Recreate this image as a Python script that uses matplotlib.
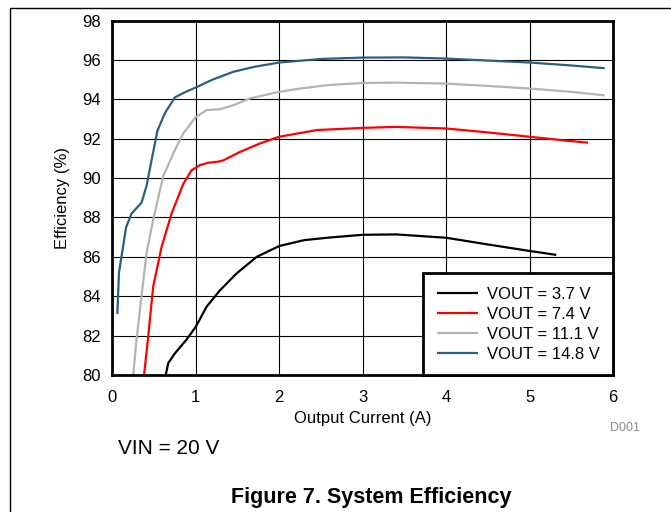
import matplotlib
matplotlib.use("Agg")
import matplotlib.pyplot as plt
from matplotlib.lines import Line2D

plt.rcParams['font.family'] = ['Liberation Sans', 'DejaVu Sans']

# efficiency curves (x in A, y in %)
x_37 = [0.64, 0.67, 0.75, 0.89, 1.0, 1.13, 1.29, 1.49, 1.73, 2.0, 2.3, 2.6, 3.0, 3.4, 4.0, 4.5, 5.0, 5.32]
y_37 = [80.0, 80.6, 81.1, 81.8, 82.45, 83.47, 84.3, 85.16, 86.0, 86.55, 86.85, 86.98, 87.12, 87.14, 86.97, 86.63, 86.3, 86.1]

x_74 = [0.38, 0.43, 0.49, 0.59, 0.71, 0.85, 0.95, 1.05, 1.15, 1.25, 1.33, 1.53, 1.77, 2.0, 2.45, 3.0, 3.4, 4.0, 4.5, 5.0, 5.4, 5.7]
y_74 = [80.0, 81.95, 84.5, 86.5, 88.2, 89.7, 90.4, 90.66, 90.78, 90.82, 90.9, 91.33, 91.76, 92.1, 92.44, 92.55, 92.6, 92.52, 92.32, 92.1, 91.92, 91.8]

x_111 = [0.25, 0.29, 0.35, 0.41, 0.49, 0.61, 0.73, 0.85, 1.0, 1.13, 1.29, 1.45, 1.65, 2.0, 2.25, 2.6, 3.0, 3.4, 4.0, 4.5, 5.0, 5.5, 5.9]
y_111 = [80.0, 81.8, 84.0, 86.2, 87.9, 90.1, 91.25, 92.27, 93.1, 93.45, 93.5, 93.7, 94.05, 94.38, 94.55, 94.73, 94.83, 94.85, 94.8, 94.68, 94.55, 94.38, 94.2]

x_148 = [0.06, 0.08, 0.165, 0.23, 0.35, 0.41, 0.47, 0.54, 0.63, 0.75, 0.89, 1.0, 1.2, 1.45, 1.7, 2.0, 2.5, 3.0, 3.5, 4.0, 4.5, 5.0, 5.5, 5.9]
y_148 = [83.1, 85.2, 87.5, 88.2, 88.75, 89.6, 90.9, 92.4, 93.3, 94.1, 94.4, 94.6, 95.0, 95.4, 95.65, 95.87, 96.05, 96.12, 96.13, 96.07, 95.97, 95.87, 95.72, 95.58]

labels = ["VOUT = 3.7 V", "VOUT = 7.4 V", "VOUT = 11.1 V", "VOUT = 14.8 V"]
colors = ["black", "#ff0000", "#b3b3b3", "#2c5f7c"]

xticks = [0, 1, 2, 3, 4, 5, 6]
yticks = list(range(80, 99, 2))

fig = plt.figure(figsize=(6.71, 5.12), dpi=100)
ax = fig.add_axes([0.1674, 0.2676, 0.7462, 0.6922])

for xs, ys, lab, c in zip([x_37, x_74, x_111, x_148], [y_37, y_74, y_111, y_148], labels, colors):
    ax.plot(xs, ys, color=c, lw=1.6, label=lab, solid_capstyle='butt')

ax.set_xlim(0, 6)
ax.set_ylim(80, 98)
ax.set_xticks(xticks)
ax.set_yticks(yticks)
ax.grid(True, color='black', lw=0.8)
ax.set_axisbelow(True)
ax.tick_params(axis='both', length=0, labelsize=12)
ax.tick_params(axis='x', pad=11)
ax.tick_params(axis='y', pad=8)
for s in ax.spines.values():
    s.set_linewidth(2)

ax.set_xlabel("Output Current (A)", fontsize=12, labelpad=4)
ax.set_ylabel("Efficiency (%)", fontsize=12, labelpad=9)

leg = ax.legend(loc='lower right', fontsize=12, frameon=True, fancybox=False,
                borderaxespad=0, handlelength=2.5, handletextpad=0.5,
                labelspacing=0.3, borderpad=0.8, framealpha=1)
leg.get_frame().set_edgecolor('black')
leg.get_frame().set_linewidth(2)

fig.text(118 / 671, 1 - 449 / 512, "VIN = 20 V", fontsize=15, va='center', ha='left')
fig.text(640 / 671, 1 - 428 / 512, "D001", fontsize=9, color='#8c8c8c', va='center', ha='right')
fig.text(371 / 671, 1 - 497 / 512, "Figure 7. System Efficiency", fontsize=15.5,
         fontweight='bold', va='center', ha='center')

# outer frame: left and top edges only
fig.add_artist(Line2D([9.5 / 671, 9.5 / 671, 1.0], [0.0, 1 - 8 / 512, 1 - 8 / 512],
                      transform=fig.transFigure, color='black', lw=1))

fig.savefig("out.png", dpi=100)
